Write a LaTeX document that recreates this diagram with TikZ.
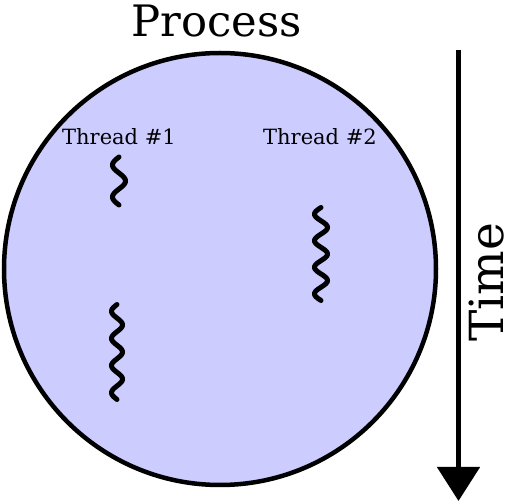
\documentclass[tikz,border=0pt]{standalone}
\usepackage{fontspec}
\setmainfont{DejaVu Serif}
\usetikzlibrary{arrows.meta}
\definecolor{procfill}{RGB}{204,204,255}
\begin{document}
\begin{tikzpicture}[x=1pt,y=-1pt,
  squiggle/.style={line width=5pt, line cap=round},
  biglabel/.style={font=\fontsize{43.3}{52}\selectfont, inner sep=0pt},
  timelabel/.style={font=\fontsize{47}{56}\selectfont, inner sep=0pt},
  thlabel/.style={font=\fontsize{21}{25}\selectfont, inner sep=0pt, anchor=base}]
\useasboundingbox (0,0) rectangle (512,502);
\draw[line width=4.5pt, fill=procfill] (220,269) circle[radius=216];
\node[biglabel, anchor=base] (proc) at (216.5,37) {Process};
\node[thlabel] (t1) at (119,145) {Thread \#1};
\node[thlabel] (t2) at (320,145) {Thread \#2};
\draw[squiggle] plot[domain=0:48, samples=80, smooth] ({119-6.5*sin((\x/32)*360)}, {157+\x});
\draw[squiggle] plot[domain=0:95, samples=150, smooth] ({117-5.5*sin((\x/27.14)*360)}, {304.5+\x});
\draw[squiggle] plot[domain=0:93, samples=150, smooth] ({321-6.5*sin((\x/26.57)*360)}, {207.5+\x});
\coordinate (ts) at (458.5,50);
\coordinate (te) at (458.5,501);
\draw[line width=5pt, -{Triangle[width=42pt,length=34pt]}] (ts) -- (te);
\node[timelabel, rotate=90, anchor=base] (time) at (503,282.5) {Time};
\end{tikzpicture}
\end{document}
